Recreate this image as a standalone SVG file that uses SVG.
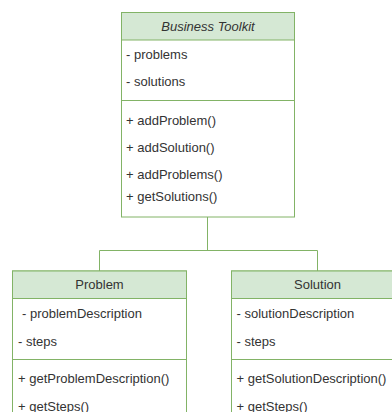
<svg xmlns="http://www.w3.org/2000/svg" width="392" height="412" viewBox="0 0 392 412">
<style>
.box{fill:#ffffff;stroke:#82b366;stroke-width:1}
.hdr{fill:#d5e8d4;stroke:#82b366;stroke-width:1}
.sep{stroke:#82b366;stroke-width:1}
.t{font-family:"Liberation Sans",Arial,sans-serif;font-size:13px;fill:#333333}
.c{text-anchor:middle}
.conn{fill:none;stroke:#82b366;stroke-width:1}
</style>
<rect width="392" height="412" fill="#ffffff"/>
<g id="connectors">
<path class="conn" d="M207.5 217 V250.5"/>
<path class="conn" d="M99.5 271 V250.5 H317.5 V271"/>
</g>
<g id="business-toolkit">
<rect class="box" x="121.5" y="12.5" width="173" height="204.5"/>
<rect class="hdr" x="121.5" y="12.5" width="173" height="27.5"/>
<line class="sep" x1="121.5" y1="100.5" x2="294.5" y2="100.5"/>
<text class="t c" x="208" y="30.5" font-style="italic">Business Toolkit</text>
<text class="t" x="126" y="58.5">- problems</text>
<text class="t" x="126" y="85.5">- solutions</text>
<text class="t" x="126" y="124.5">+ addProblem()</text>
<text class="t" x="126" y="151.5">+ addSolution()</text>
<text class="t" x="126" y="178.5">+ addProblems()</text>
<text class="t" x="126" y="201">+ getSolutions()</text>
</g>
<g id="problem">
<rect class="box" x="12.5" y="271" width="174" height="150"/>
<rect class="hdr" x="12.5" y="271" width="174" height="27.5"/>
<line class="sep" x1="12.5" y1="359.5" x2="186.5" y2="359.5"/>
<text class="t c" x="99.5" y="289">Problem</text>
<text class="t" x="22" y="317.5">- problemDescription</text>
<text class="t" x="18" y="345.5">- steps</text>
<text class="t" x="18" y="382.5">+ getProblemDescription()</text>
<text class="t" x="18" y="410.5">+ getSteps()</text>
</g>
<g id="solution">
<rect class="box" x="231.5" y="271" width="174" height="150"/>
<rect class="hdr" x="231.5" y="271" width="174" height="27.5"/>
<line class="sep" x1="231.5" y1="359.5" x2="405.5" y2="359.5"/>
<text class="t c" x="317.5" y="289">Solution</text>
<text class="t" x="236.5" y="317.5">- solutionDescription</text>
<text class="t" x="236.5" y="345.5">- steps</text>
<text class="t" x="236.5" y="382.5">+ getSolutionDescription()</text>
<text class="t" x="236.5" y="410.5">+ getSteps()</text>
</g>
</svg>
